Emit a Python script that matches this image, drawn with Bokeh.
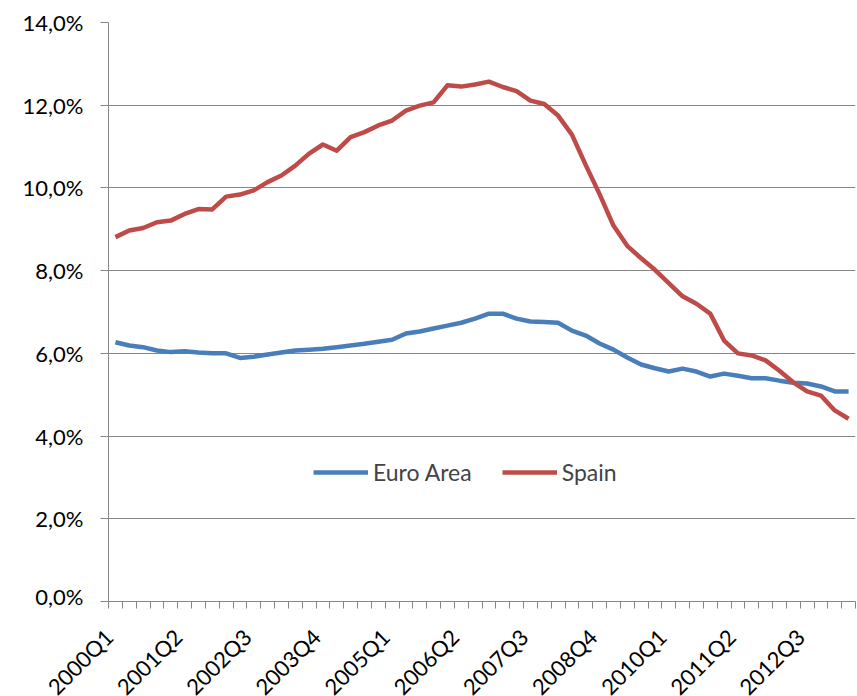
import math
from bokeh.plotting import figure
from bokeh.layouts import column
from bokeh.models import Legend, LegendItem, FixedTicker, ColumnDataSource, Range1d
from bokeh.core.properties import value
from bokeh.embed import file_html
from bokeh.resources import INLINE

quarters = [f"{y}Q{q}" for y in range(2000, 2014) for q in range(1, 5)][:54]

euro_area = [6.27, 6.19, 6.15, 6.07, 6.03, 6.05, 6.02, 6.00, 6.00, 5.89,
             5.92, 5.97, 6.02, 6.07, 6.09, 6.11, 6.15, 6.19, 6.23, 6.28,
             6.33, 6.48, 6.53, 6.60, 6.67, 6.74, 6.84, 6.96, 6.96, 6.84,
             6.77, 6.76, 6.74, 6.55, 6.43, 6.24, 6.09, 5.90, 5.73, 5.64,
             5.56, 5.63, 5.56, 5.44, 5.51, 5.46, 5.40, 5.40, 5.34, 5.29,
             5.27, 5.20, 5.08, 5.08]

spain = [8.81, 8.97, 9.03, 9.17, 9.21, 9.37, 9.49, 9.48, 9.79, 9.84,
         9.94, 10.14, 10.30, 10.54, 10.83, 11.05, 10.90, 11.23, 11.35, 11.51,
         11.63, 11.87, 11.99, 12.07, 12.48, 12.45, 12.50, 12.57, 12.44, 12.34,
         12.11, 12.03, 11.75, 11.29, 10.55, 9.85, 9.09, 8.60, 8.30, 8.02,
         7.70, 7.38, 7.20, 6.96, 6.31, 6.00, 5.95, 5.83, 5.58, 5.30,
         5.08, 4.98, 4.62, 4.42]

y_ticks = [0, 2, 4, 6, 8, 10, 12, 14]
x_label_idx = list(range(0, 54, 5))
x_labels = [quarters[i] for i in x_label_idx]

FONT = "Lato"
FS = "22px"
GRAY = "#868686"

W = 857
LEFT, RIGHT, TOP = 108, 2, 22
MAIN_H = 609
LAB_H = 87
N = len(quarters)

src = ColumnDataSource(dict(x=list(range(N)), euro=euro_area, spain=spain))

p = figure(width=W, height=MAIN_H, output_backend="svg", toolbar_location=None,
           x_range=Range1d(-0.5, N - 0.5), y_range=Range1d(0, 14),
           min_border_left=LEFT, min_border_right=RIGHT, min_border_top=TOP,
           min_border_bottom=8)
p.frame_align = False
p.outline_line_color = None
p.background_fill_color = "white"
p.border_fill_color = "white"

r1 = p.line("x", "euro", source=src, line_color="#4A7EBB", line_width=4.5, line_join="round")
r2 = p.line("x", "spain", source=src, line_color="#BE4B48", line_width=4.5, line_join="round")

# x axis: only category-boundary tick marks
p.xaxis.ticker = FixedTicker(ticks=[], minor_ticks=[i - 0.5 for i in range(N + 1)])
p.xaxis.minor_tick_line_color = GRAY
p.xaxis.minor_tick_out = 7
p.xaxis.minor_tick_in = 0
p.xaxis.major_tick_out = 0
p.xaxis.major_label_standoff = 0
p.xaxis.axis_line_color = GRAY
p.xaxis.major_label_text_font_size = "0px"

# y axis
p.yaxis.ticker = FixedTicker(ticks=y_ticks)
p.yaxis.major_label_overrides = {v: f"{v:.1f}%".replace(".", ",") for v in y_ticks}
p.yaxis.major_tick_out = 8
p.yaxis.major_tick_in = 0
p.yaxis.major_tick_line_color = GRAY
p.yaxis.minor_tick_line_color = None
p.yaxis.axis_line_color = GRAY
p.yaxis.major_label_text_font = FONT
p.yaxis.major_label_text_font_size = FS
p.yaxis.major_label_text_color = "black"
p.yaxis.major_label_standoff = 17

p.xgrid.grid_line_color = None
p.ygrid.ticker = FixedTicker(ticks=y_ticks)
p.ygrid.grid_line_color = GRAY
p.ygrid.grid_line_width = 1

legend = Legend(items=[LegendItem(label="Euro Area", renderers=[r1]),
                       LegendItem(label="Spain", renderers=[r2])],
                orientation="horizontal", location=(205, 115),
                padding=0, margin=0, spacing=30, label_standoff=5,
                glyph_width=55, glyph_height=26,
                label_text_font=FONT, label_text_font_size="23px",
                border_line_color=None, background_fill_alpha=0)
p.add_layout(legend, "center")

# strip below for rotated category labels, on the same x scale
frame_w = W - LEFT - RIGHT
px_per_unit = frame_w / N
q_start = -0.5 - LEFT / px_per_unit
q = figure(width=W, height=LAB_H, output_backend="svg", toolbar_location=None,
           x_range=Range1d(q_start, N - 0.5), y_range=Range1d(0, LAB_H),
           min_border_left=0, min_border_right=RIGHT, min_border_top=0,
           min_border_bottom=0, x_axis_location=None, y_axis_location=None)
q.frame_align = False
q.outline_line_color = None
q.grid.visible = False
q.background_fill_color = "white"
q.border_fill_color = "white"
q.text(x=x_label_idx, y=[LAB_H - 14] * len(x_label_idx), text=x_labels,
       angle=math.pi / 4, text_align="right", text_baseline="top",
       x_offset=-16, text_font=value(FONT), text_font_size=value(FS),
       text_color="black")

layout = column(p, q, spacing=0)
open("out.html", "w").write(file_html(layout, INLINE))
